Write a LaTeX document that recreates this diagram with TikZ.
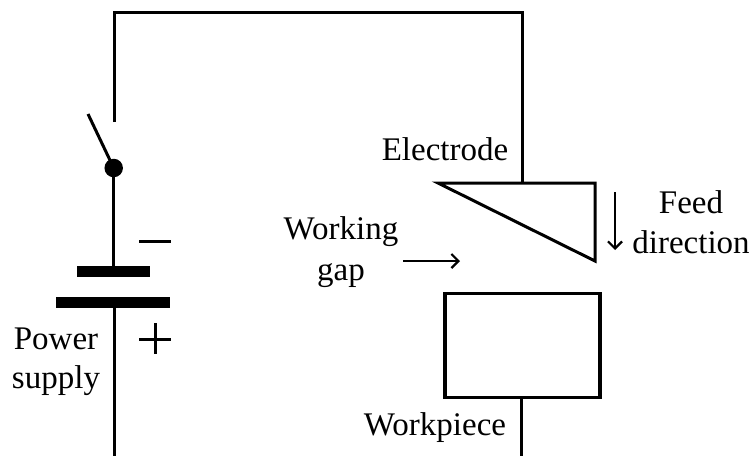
\documentclass[tikz,border=0pt]{standalone}
\usepackage{fontspec}
\setmainfont{Liberation Serif}
\usetikzlibrary{arrows.meta}
\begin{document}
\begin{tikzpicture}[x=1pt,y=-1pt,
  wire/.style={line width=3pt,line cap=butt},
  plate/.style={line width=11pt},
  sign/.style={line width=3pt},
  arrowline/.style={line width=2.4pt,-{Straight Barb[length=7pt,width=14pt,line width=2.2pt]}},
  lbl/.style={inner sep=0pt,anchor=base,font=\fontsize{33}{39}\selectfont,align=center}]
\useasboundingbox (0,0) rectangle (754,456);
\coordinate (tl) at (114,12);
\coordinate (tr) at (522.5,12);
\coordinate (swtop) at (114,122);
\node[circle,fill=black,minimum size=18.5pt,inner sep=0pt] (pivot) at (113.7,168) {};
\coordinate (blade) at (88,114);
\coordinate (batn) at (113.7,271);
\coordinate (batp) at (114,302);
\coordinate (bl) at (114,456);
\coordinate (tria) at (438,183);
\coordinate (trib) at (595,183);
\coordinate (tric) at (595,261);
\node[draw,line width=3.2pt,minimum width=155pt,minimum height=103.5pt,inner sep=0pt] (wp) at (522.5,345.5) {};
\coordinate (br) at (521,456);
\draw[wire,line join=miter] (swtop) -- (tl) -- (tr) -- (522.5,183);
\draw[wire] (pivot.center) -- (blade);
\draw[wire] (pivot.center) -- (batn);
\draw[wire] (batp) -- (bl);
\draw[wire] (521,397) -- (br);
\draw[plate] (77,271.5) -- (150,271.5);
\draw[plate] (56,302) -- (170,302);
\draw[sign] (139,241) -- (171,241);
\draw[sign] (139,339) -- (171,339) (155,323) -- (155,354);
\draw[wire,line join=miter] (tria) -- (trib) -- (tric) -- cycle;
\coordinate (wa) at (403,261);
\coordinate (wb) at (460,261);
\draw[arrowline] (wa) -- (wb);
\coordinate (fa) at (615,192);
\coordinate (fb) at (615,250);
\draw[arrowline] (fa) -- (fb);
\node[lbl] (el) at (445,160) {Electrode};
\node[lbl] (wg1) at (341,239) {Working};
\node[lbl] (wg2) at (341,280) {gap};
\node[lbl] (fd1) at (691,213) {Feed};
\node[lbl] (fd2) at (691,253) {direction};
\node[lbl] (ps1) at (56,349) {Power};
\node[lbl] (ps2) at (56,388) {supply};
\node[lbl] (wk) at (435,435) {Workpiece};
\end{tikzpicture}
\end{document}
